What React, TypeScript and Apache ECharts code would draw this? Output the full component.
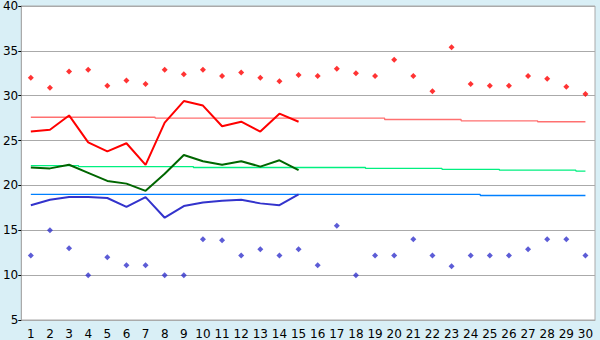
import React, { useEffect, useRef } from "react";
import * as echarts from "echarts";

const days = Array.from({ length: 30 }, (_, i) => String(i + 1));

const dailyMax = [32.0, 30.9, 32.7, 32.9, 31.1, 31.7, 31.3, 32.9, 32.4, 32.9, 32.2, 32.6, 32.0, 31.6, 32.3, 32.2, 33.0, 32.5, 32.2, 34.0, 32.2, 30.5, 35.4, 31.3, 31.1, 31.1, 32.2, 31.9, 31.0, 30.2];
const dailyMin = [12.2, 15.0, 13.0, 10.0, 12.0, 11.1, 11.1, 10.0, 10.0, 14.0, 13.9, 12.2, 12.9, 12.2, 12.9, 11.1, 15.5, 10.0, 12.2, 12.2, 14.0, 12.2, 11.0, 12.2, 12.2, 12.2, 12.9, 14.0, 14.0, 12.2];

const maxLine = [26.0, 26.2, 27.8, 24.8, 23.8, 24.7, 22.3, 27.0, 29.4, 28.9, 26.6, 27.1, 26.0, 28.0, 27.1];
const meanLine = [22.0, 21.9, 22.3, 21.4, 20.5, 20.2, 19.4, 21.3, 23.4, 22.7, 22.3, 22.7, 22.1, 22.8, 21.7];
const minLine = [17.8, 18.4, 18.7, 18.7, 18.6, 17.6, 18.7, 16.4, 17.7, 18.1, 18.3, 18.4, 18.0, 17.8, 19.0];

const normalMax = [27.6, 27.6, 27.6, 27.6, 27.6, 27.6, 27.6, 27.5, 27.5, 27.5, 27.5, 27.5, 27.5, 27.5, 27.5, 27.5, 27.5, 27.5, 27.5, 27.35, 27.35, 27.35, 27.35, 27.2, 27.2, 27.2, 27.2, 27.1, 27.1, 27.1];
const normalMean = [22.2, 22.2, 22.2, 22.1, 22.1, 22.1, 22.1, 22.1, 22.1, 22.0, 22.0, 22.0, 22.0, 22.0, 22.0, 22.0, 22.0, 22.0, 21.9, 21.9, 21.9, 21.9, 21.8, 21.8, 21.8, 21.7, 21.7, 21.7, 21.7, 21.6];
const normalMin = [19.0, 19.0, 19.0, 19.0, 19.0, 19.0, 19.0, 19.0, 19.0, 19.0, 19.0, 19.0, 19.0, 19.0, 19.0, 19.0, 19.0, 19.0, 19.0, 19.0, 19.0, 19.0, 19.0, 19.0, 18.88, 18.88, 18.88, 18.88, 18.88, 18.88];

const yTicks = { min: 5, max: 40, interval: 5 };

export default function App() {
  const ref = useRef<HTMLDivElement>(null);
  useEffect(() => {
    if (!ref.current) return;
    const chart = echarts.init(ref.current, undefined, { renderer: "svg" });
    const font = "DejaVu Sans";
    const refLine = (data: number[], color: string, z: number) => ({
      type: "line",
      data,
      step: "middle",
      symbol: "none",
      lineStyle: { color, width: 1.3 },
      z,
    });
    chart.setOption({
      animation: false,
      backgroundColor: "#d9eff6",
      grid: {
        left: 20,
        right: 5,
        top: 5,
        bottom: 20,
        show: true,
        backgroundColor: "#ffffff",
        borderColor: "#aaaaaa",
        borderWidth: 1,
      },
      xAxis: {
        type: "category",
        data: days,
        boundaryGap: true,
        axisLine: { lineStyle: { color: "#aaaaaa", width: 1 } },
        axisTick: { alignWithLabel: true, length: 5, lineStyle: { color: "#000000" } },
        axisLabel: { color: "#000000", fontFamily: font, fontSize: 12, margin: 8, interval: 0 },
        splitLine: { show: false },
      },
      yAxis: {
        type: "value",
        min: yTicks.min,
        max: yTicks.max,
        interval: yTicks.interval,
        axisLine: { show: true, lineStyle: { color: "#aaaaaa", width: 1 } },
        axisTick: { show: true, length: 3, lineStyle: { color: "#000000" } },
        axisLabel: { color: "#000000", fontFamily: font, fontSize: 12, margin: 3 },
        splitLine: { show: true, lineStyle: { color: "#aaaaaa", width: 1 } },
      },
      series: [
        refLine(normalMax, "#ff7070", 2),
        refLine(normalMean, "#00f080", 2),
        refLine(normalMin, "#0080ff", 2),
        {
          type: "line",
          data: maxLine,
          symbol: "none",
          lineStyle: { color: "#ff0000", width: 2 },
          z: 3,
        },
        {
          type: "line",
          data: meanLine,
          symbol: "none",
          lineStyle: { color: "#006600", width: 2 },
          z: 3,
        },
        {
          type: "line",
          data: minLine,
          symbol: "none",
          lineStyle: { color: "#3333cc", width: 2 },
          z: 3,
        },
        {
          type: "scatter",
          data: dailyMax,
          symbol: "diamond",
          symbolSize: 6,
          itemStyle: { color: "#ff0000" },
          z: 4,
        },
        {
          type: "scatter",
          data: dailyMin,
          symbol: "diamond",
          symbolSize: 6,
          itemStyle: { color: "#3333cc" },
          z: 4,
        },
      ],
    });
    return () => chart.dispose();
  }, []);
  return (
    <div
      ref={ref}
      style={{ position: "fixed", left: 0, top: 0, width: 600, height: 340 }}
    />
  );
}
